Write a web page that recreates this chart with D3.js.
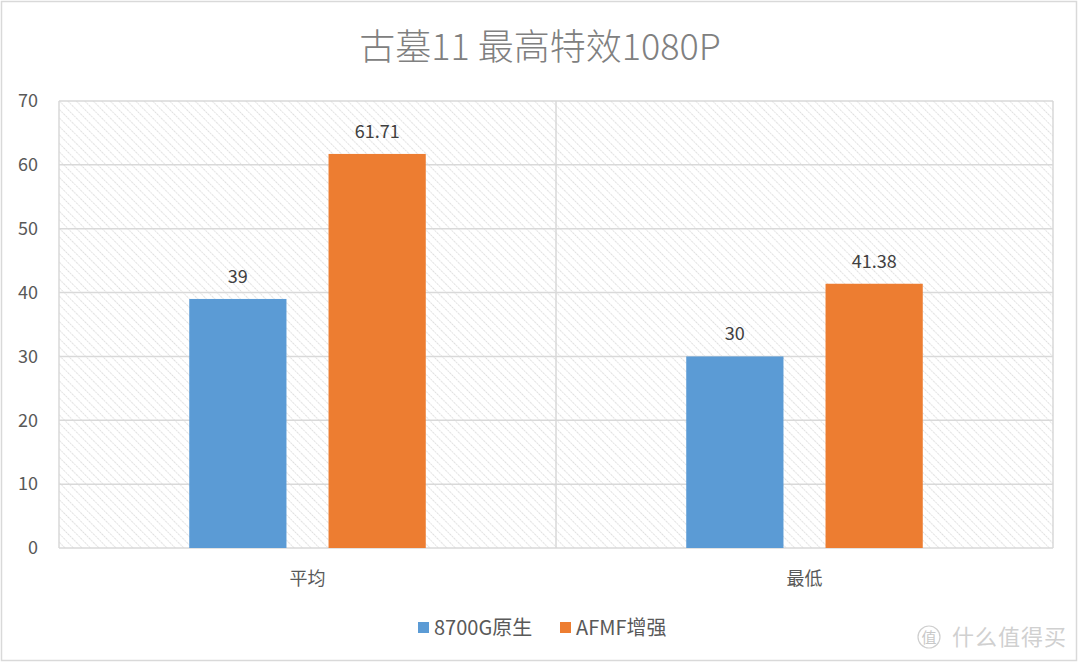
<!DOCTYPE html>
<html><head><meta charset="utf-8">
<script src="https://cdn.jsdelivr.net/npm/d3@7"></script>
<style>body{margin:0;background:#fff}svg{display:block}</style>
</head><body>
<svg id="c" width="1080" height="664"></svg>
<script>
const categories = ["平均", "最低"];
const seriesNames = ["8700G原生", "AFMF增强"];
const native8700G = [39, 30];
const afmf = [61.71, 41.38];
const yTicks = [0, 10, 20, 30, 40, 50, 60, 70];
const title = "古墓11 最高特效1080P";
const colors = ["#5B9BD5", "#ED7D31"];

const svg = d3.select("#c");
const font = "'Noto Sans CJK SC','Noto Sans',sans-serif";
const W = 1080, H = 664;
const m = {l: 59, r: 1053, t: 101, b: 548};

// outer border
svg.append("rect").attr("x", 1.5).attr("y", 1.5).attr("width", W - 5).attr("height", H - 5)
  .attr("fill", "#fff").attr("stroke", "#d9d9d9").attr("stroke-width", 1.5);

const defs = svg.append("defs");
const pat = defs.append("pattern").attr("id", "hatch").attr("patternUnits", "userSpaceOnUse")
  .attr("width", 6).attr("height", 6).attr("patternTransform", "rotate(-45)");
pat.append("line").attr("x1", 0).attr("y1", 0).attr("x2", 0).attr("y2", 6)
  .attr("stroke", "#d6d6d6").attr("stroke-width", 1.6).attr("stroke-dasharray", "1.6,1");

const x0 = d3.scaleBand().domain(categories).range([m.l, m.r]);
const x1 = d3.scaleBand().domain(seriesNames).range([0, x0.bandwidth()]).paddingInner(0.302).paddingOuter(0.935);
const y = d3.scaleLinear().domain([0, 70]).range([m.b, m.t]);

// plot background hatch
svg.append("rect").attr("x", m.l).attr("y", m.t).attr("width", m.r - m.l).attr("height", m.b - m.t)
  .attr("fill", "url(#hatch)");

// gridlines
svg.append("g").selectAll("line").data(yTicks).join("line")
  .attr("x1", m.l).attr("x2", m.r).attr("y1", d => y(d)).attr("y2", d => y(d))
  .attr("stroke", "#d9d9d9").attr("stroke-width", 1.5);
// vertical lines at category boundaries
const bounds = [m.l, ...categories.slice(1).map(c => x0(c)), m.r];
svg.append("g").selectAll("line").data(bounds).join("line")
  .attr("x1", d => d).attr("x2", d => d).attr("y1", m.t).attr("y2", m.b)
  .attr("stroke", "#d9d9d9").attr("stroke-width", 1.5);

// y tick labels
svg.append("g").selectAll("text").data(yTicks).join("text")
  .attr("x", 38).attr("y", d => y(d)).attr("dy", "0.35em").attr("text-anchor", "end")
  .attr("font-family", font).attr("font-size", 18).attr("fill", "#595959").text(d => d);

// bars
const series = [native8700G, afmf];
const g = svg.append("g");
categories.forEach((c, ci) => {
  seriesNames.forEach((s, si) => {
    const v = series[si][ci];
    g.append("rect").attr("x", x0(c) + x1(s)).attr("y", y(v))
      .attr("width", x1.bandwidth()).attr("height", y(0) - y(v)).attr("fill", colors[si]);
    g.append("text").attr("x", x0(c) + x1(s) + x1.bandwidth() / 2).attr("y", y(v) - 16)
      .attr("text-anchor", "middle").attr("font-family", font).attr("font-size", 18)
      .attr("fill", "#404040").text(v);
  });
});

// category labels
svg.append("g").selectAll("text").data(categories).join("text")
  .attr("x", d => x0(d) + x0.bandwidth() / 2).attr("y", 585).attr("text-anchor", "middle")
  .attr("font-family", font).attr("font-size", 18).attr("fill", "#595959").text(d => d);

// title
svg.append("text").attr("x", 540).attr("y", 60).attr("text-anchor", "middle")
  .attr("font-family", font).attr("font-size", 36).attr("font-weight", 300).attr("fill", "#808080").text(title);

// legend
const leg = svg.append("g");
const legX = [418, 560];
seriesNames.forEach((s, i) => {
  leg.append("rect").attr("x", legX[i]).attr("y", 622).attr("width", 11).attr("height", 11).attr("fill", colors[i]);
  leg.append("text").attr("x", legX[i] + 16).attr("y", 635).attr("font-family", font)
    .attr("font-size", 20).attr("fill", "#595959").text(s);
});

// watermark
const wm = svg.append("g");
wm.append("circle").attr("cx", 929).attr("cy", 637).attr("r", 11).attr("fill", "none")
  .attr("stroke", "#cfcfcf").attr("stroke-width", 1.2);
wm.append("text").attr("x", 929).attr("y", 643).attr("text-anchor", "middle").attr("font-family", font)
  .attr("font-size", 15).attr("fill", "#c8c8c8").text("值");
wm.append("text").attr("x", 952).attr("y", 645).attr("font-family", font)
  .attr("font-size", 22).attr("fill", "#d0d0d0").attr("letter-spacing", 1).text("什么值得买");
</script>
</body></html>
